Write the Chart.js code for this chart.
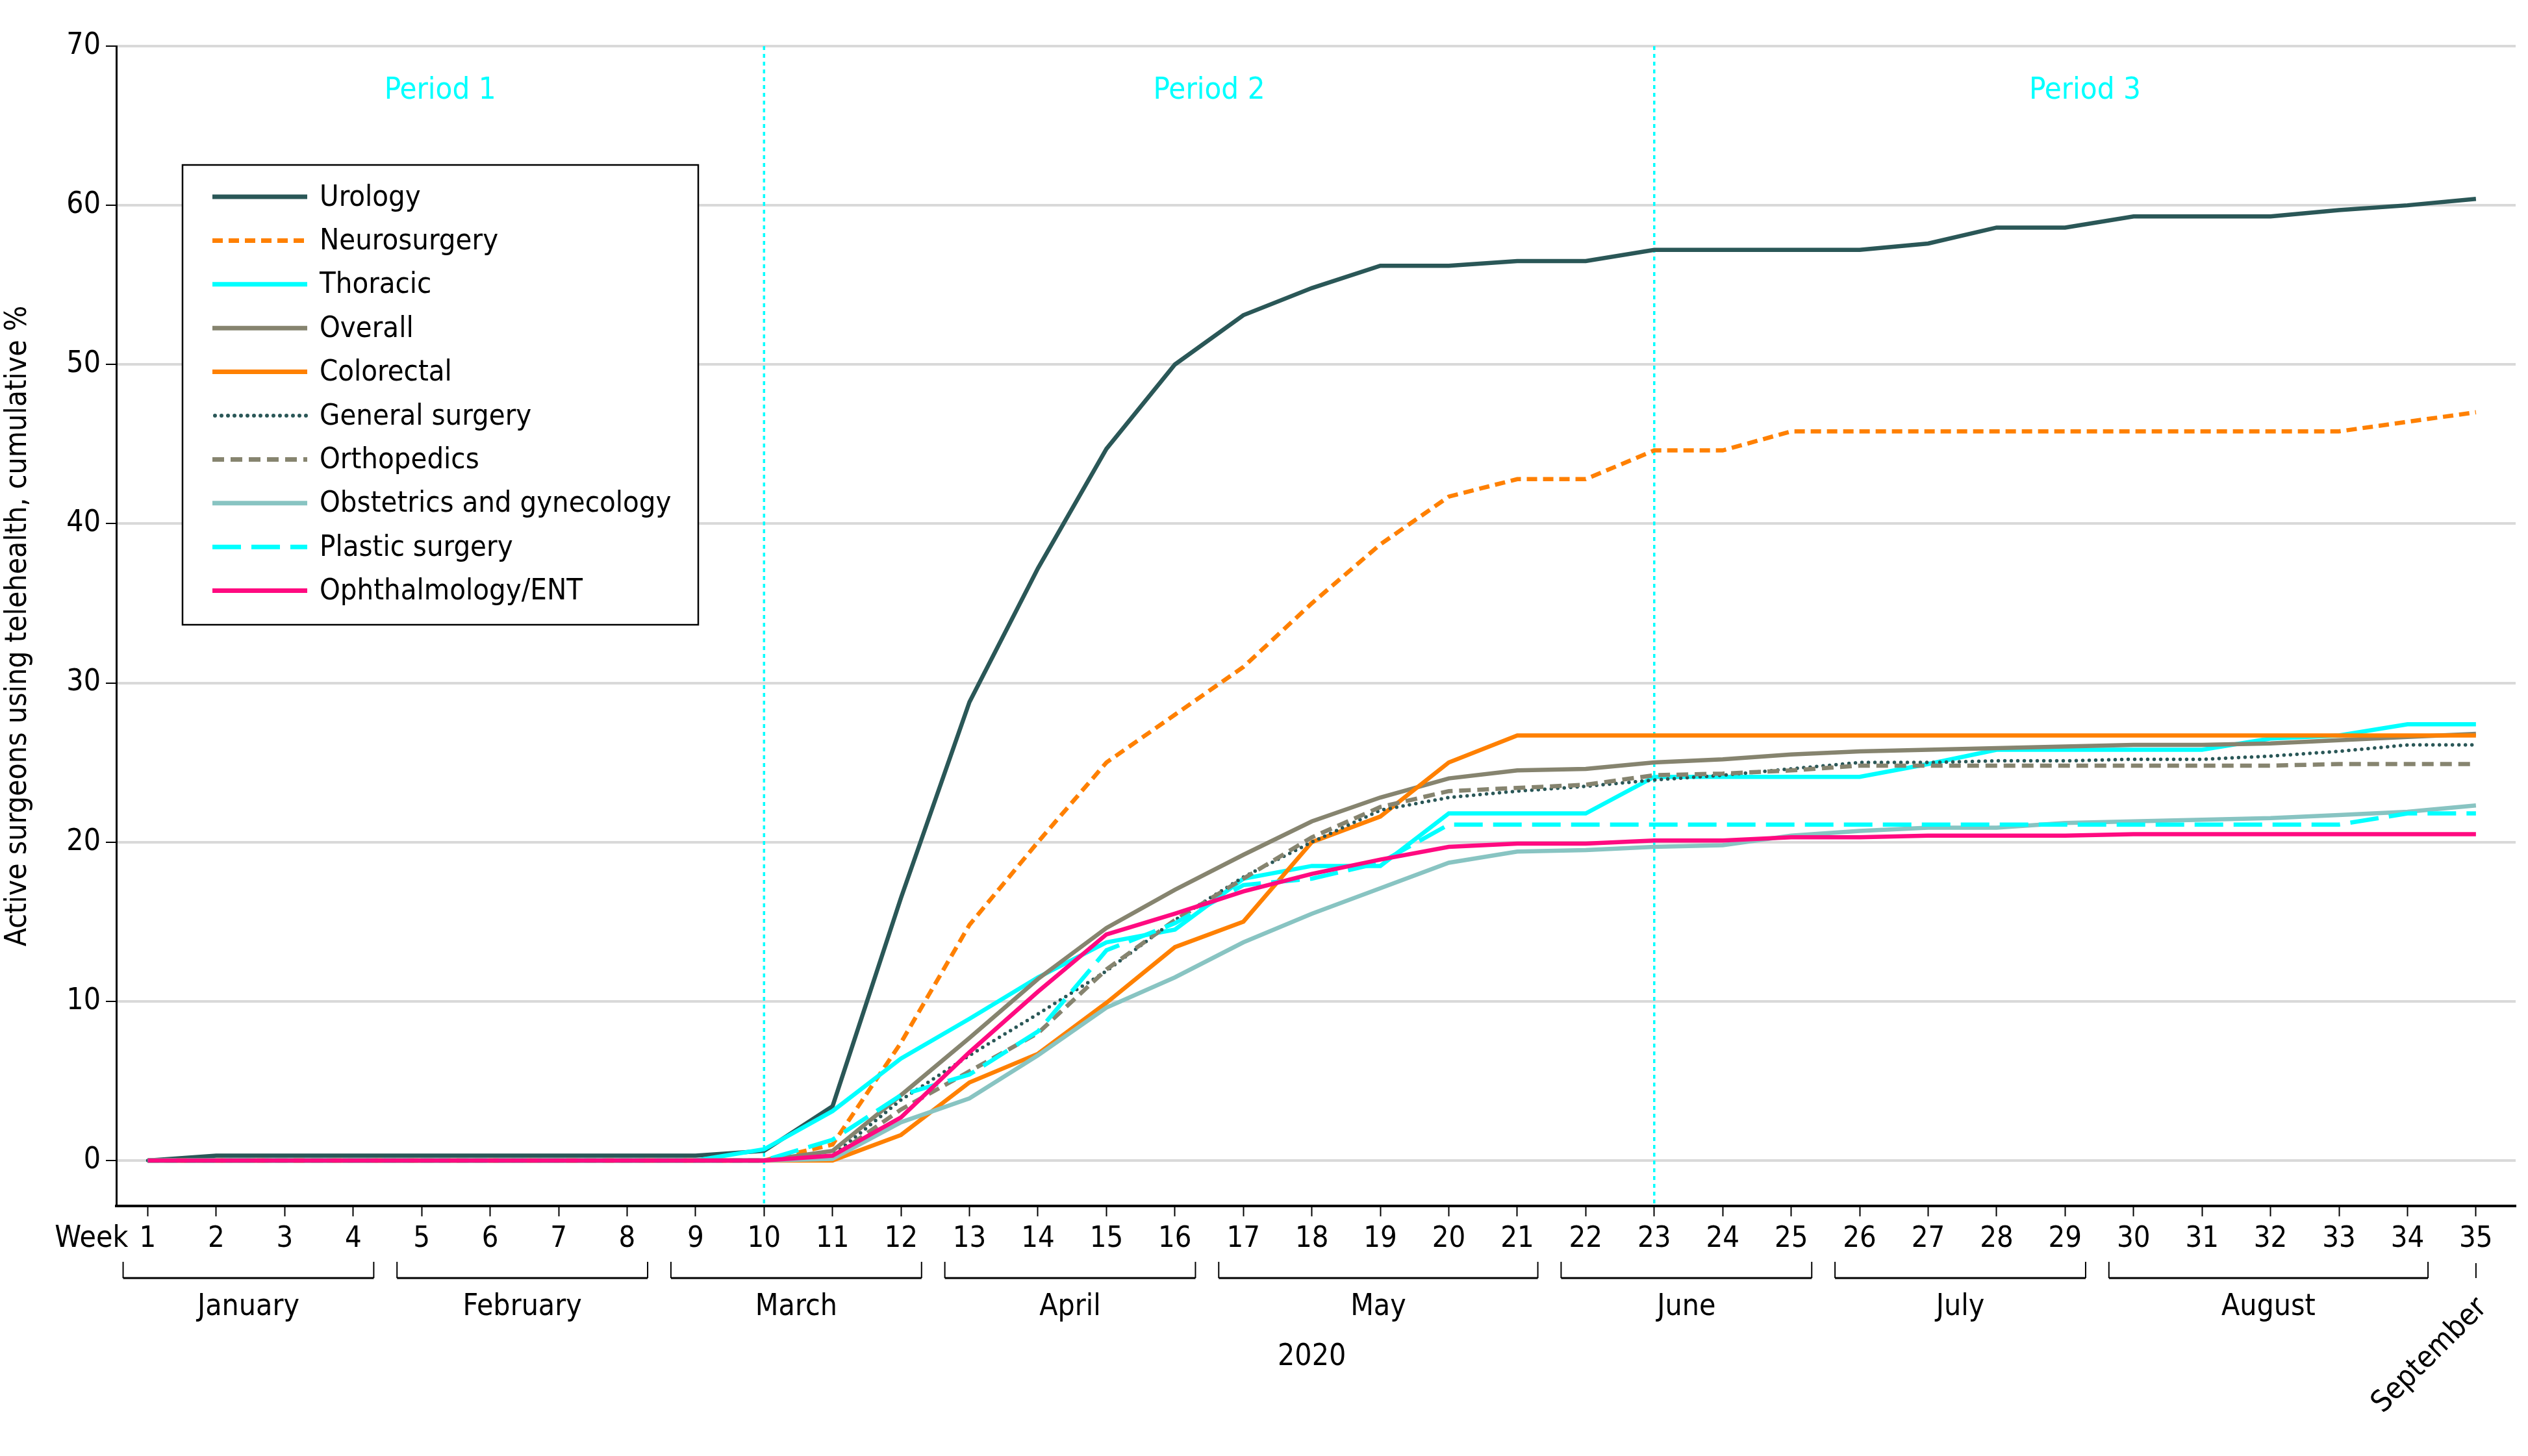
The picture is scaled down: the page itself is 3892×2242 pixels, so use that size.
<!DOCTYPE html>
<html>
<head>
<meta charset="utf-8">
<script src="https://cdn.jsdelivr.net/npm/chart.js@4.4.0/dist/chart.umd.min.js"></script>
<style>
  html, body { margin: 0; padding: 0; background: #fff; }
  #wrap { width: 3892px; height: 2242px; position: relative; }
</style>
</head>
<body>
<div id="wrap"><canvas id="chart"></canvas></div>
<script>
const weeks = [1, 2, 3, 4, 5, 6, 7, 8, 9, 10, 11, 12, 13, 14, 15, 16, 17, 18, 19, 20, 21, 22, 23, 24, 25, 26, 27, 28, 29, 30, 31, 32, 33, 34, 35];

const urology = [0, 0.3, 0.3, 0.3, 0.3, 0.3, 0.3, 0.3, 0.3, 0.6, 3.4, 16.5, 28.8, 37.2, 44.7, 50.0, 53.1, 54.8, 56.2, 56.2, 56.5, 56.5, 57.2, 57.2, 57.2, 57.2, 57.6, 58.6, 58.6, 59.3, 59.3, 59.3, 59.7, 60.0, 60.4];
const neurosurgery = [0, 0, 0, 0, 0, 0, 0, 0, 0, 0, 1.0, 7.4, 14.8, 20.0, 25.0, 28.0, 31.0, 35.0, 38.7, 41.7, 42.8, 42.8, 44.6, 44.6, 45.8, 45.8, 45.8, 45.8, 45.8, 45.8, 45.8, 45.8, 45.8, 46.4, 47.0];
const thoracic = [0, 0, 0, 0, 0, 0, 0, 0, 0, 0.7, 3.1, 6.4, 8.9, 11.5, 13.7, 14.5, 17.7, 18.5, 18.5, 21.8, 21.8, 21.8, 24.1, 24.1, 24.1, 24.1, 24.9, 25.8, 25.8, 25.8, 25.8, 26.5, 26.7, 27.4, 27.4];
const overall = [0, 0, 0, 0, 0, 0, 0, 0, 0, 0, 0.6, 4.1, 7.7, 11.4, 14.6, 17.0, 19.2, 21.3, 22.8, 24.0, 24.5, 24.6, 25.0, 25.2, 25.5, 25.7, 25.8, 25.9, 26.0, 26.1, 26.1, 26.2, 26.4, 26.6, 26.8];
const colorectal = [0, 0, 0, 0, 0, 0, 0, 0, 0, 0, 0, 1.6, 4.9, 6.7, 9.9, 13.4, 15.0, 20.0, 21.6, 25.0, 26.7, 26.7, 26.7, 26.7, 26.7, 26.7, 26.7, 26.7, 26.7, 26.7, 26.7, 26.7, 26.7, 26.7, 26.7];
const generalSurgery = [0, 0, 0, 0, 0, 0, 0, 0, 0, 0, 0.3, 3.8, 6.6, 9.2, 11.9, 15.1, 17.8, 20.0, 22.0, 22.8, 23.2, 23.5, 23.9, 24.2, 24.6, 25.0, 25.0, 25.1, 25.1, 25.2, 25.2, 25.4, 25.7, 26.1, 26.1];
const orthopedics = [0, 0, 0, 0, 0, 0, 0, 0, 0, 0, 0.2, 3.2, 5.6, 8.0, 12.0, 15.1, 17.7, 20.3, 22.2, 23.2, 23.4, 23.6, 24.2, 24.3, 24.5, 24.8, 24.8, 24.8, 24.8, 24.8, 24.8, 24.8, 24.9, 24.9, 24.9];
const obgyn = [0, 0, 0, 0, 0, 0, 0, 0, 0, 0, 0.1, 2.4, 3.9, 6.6, 9.6, 11.5, 13.7, 15.5, 17.1, 18.7, 19.4, 19.5, 19.7, 19.8, 20.4, 20.7, 20.9, 20.9, 21.2, 21.3, 21.4, 21.5, 21.7, 21.9, 22.3];
const plastic = [0, 0, 0, 0, 0, 0, 0, 0, 0, 0, 1.3, 4.1, 5.4, 8.1, 13.2, 14.9, 17.3, 17.7, 18.7, 21.1, 21.1, 21.1, 21.1, 21.1, 21.1, 21.1, 21.1, 21.1, 21.1, 21.1, 21.1, 21.1, 21.1, 21.8, 21.8];
const ophthalmology = [0, 0, 0, 0, 0, 0, 0, 0, 0, 0, 0.3, 2.7, 6.8, 10.6, 14.2, 15.5, 16.9, 18.0, 18.9, 19.7, 19.9, 19.9, 20.1, 20.1, 20.3, 20.3, 20.4, 20.4, 20.4, 20.5, 20.5, 20.5, 20.5, 20.5, 20.5];

const yTicks = [0, 10, 20, 30, 40, 50, 60, 70];
const monthNames = ['January', 'February', 'March', 'April', 'May', 'June', 'July', 'August', 'September'];
const monthFirstWeek = [1, 5, 9, 13, 17, 22, 26, 30, 35];
const monthLastWeek = [4, 8, 12, 16, 21, 25, 29, 34, 35];
const periodLabels = ['Period 1', 'Period 2', 'Period 3'];
const periodBreaks = [10, 23];

const FONT = '"Liberation Sans Narrow", "DejaVu Sans Condensed", "Roboto Condensed", "Liberation Sans", sans-serif';
const CYAN = '#00ffff';
const TEAL = '#2a5757';
const OLIVE = '#86846f';
const ORANGE = '#ff8000';

const toPoints = vals => weeks.map((w, i) => ({ x: w, y: vals[i] }));

// series, in legend order
const datasets = [
  { label: 'Urology', data: toPoints(urology), borderColor: TEAL },
  { label: 'Neurosurgery', data: toPoints(neurosurgery), borderColor: ORANGE, borderDash: [16, 9], borderCapStyle: 'butt' },
  { label: 'Thoracic', data: toPoints(thoracic), borderColor: CYAN },
  { label: 'Overall', data: toPoints(overall), borderColor: OLIVE },
  { label: 'Colorectal', data: toPoints(colorectal), borderColor: ORANGE },
  { label: 'General surgery', data: toPoints(generalSurgery), borderColor: TEAL, borderDash: [0, 10], borderCapStyle: 'round', borderWidth: 5.5 },
  { label: 'Orthopedics', data: toPoints(orthopedics), borderColor: OLIVE, borderDash: [18, 10], borderCapStyle: 'butt' },
  { label: 'Obstetrics and gynecology', data: toPoints(obgyn), borderColor: '#88c4c2' },
  { label: 'Plastic surgery', data: toPoints(plastic), borderColor: CYAN, borderDash: [44, 16], borderCapStyle: 'butt' },
  { label: 'Ophthalmology/ENT', data: toPoints(ophthalmology), borderColor: '#ff0a80' }
].map((d, i, all) => Object.assign({ borderWidth: 6.5, fill: false, order: all.length - i }, d));

const annotations = {
  id: 'annotations',
  beforeDatasetsDraw(chart) {
    const { ctx, chartArea: a, scales: { x, y } } = chart;
    ctx.save();
    // period boundaries
    ctx.strokeStyle = CYAN;
    ctx.lineWidth = 3.5;
    ctx.setLineDash([6, 6]);
    periodBreaks.forEach(w => {
      const px = x.getPixelForValue(w);
      ctx.beginPath();
      ctx.moveTo(px, a.top);
      ctx.lineTo(px, a.bottom);
      ctx.stroke();
    });
    ctx.setLineDash([]);
    const bounds = [x.min, ...periodBreaks, x.max];
    ctx.fillStyle = CYAN;
    ctx.font = `47px ${FONT}`;
    ctx.textAlign = 'center';
    ctx.textBaseline = 'middle';
    periodLabels.forEach((t, i) => {
      ctx.fillText(t, x.getPixelForValue((bounds[i] + bounds[i + 1]) / 2), y.getPixelForValue(67.2));
    });
    ctx.restore();
  },
  afterDatasetsDraw(chart) {
    const { ctx, chartArea: a } = chart;
    // legend box
    const bx = a.left + 102, by = a.top + 183, bw = 794, bh = 708;
    ctx.save();
    ctx.fillStyle = '#fff';
    ctx.fillRect(bx, by, bw, bh);
    ctx.strokeStyle = '#000';
    ctx.lineWidth = 2.5;
    ctx.strokeRect(bx, by, bw, bh);
    ctx.font = `45px ${FONT}`;
    ctx.textAlign = 'left';
    ctx.textBaseline = 'middle';
    chart.data.datasets.forEach((d, i) => {
      const ry = by + 49 + i * 67.4;
      ctx.strokeStyle = d.borderColor;
      ctx.lineWidth = d.borderWidth + 0.5;
      ctx.lineCap = d.borderCapStyle || 'butt';
      ctx.setLineDash(d.borderDash || []);
      ctx.beginPath();
      ctx.moveTo(bx + 46 + (d.borderCapStyle === 'round' ? 4 : 0), ry);
      ctx.lineTo(bx + 192, ry);
      ctx.stroke();
      ctx.setLineDash([]);
      ctx.fillStyle = '#000';
      ctx.fillText(d.label, bx + 211, ry + 2);
    });
    ctx.restore();
  },
  afterDraw(chart) {
    const { ctx, chartArea: a, scales: { x } } = chart;
    const b = a.bottom;
    ctx.save();
    ctx.strokeStyle = '#000';
    ctx.fillStyle = '#000';
    ctx.font = `46px ${FONT}`;
    ctx.textBaseline = 'middle';
    // "Week" caption before tick labels
    ctx.textAlign = 'right';
    ctx.fillText('Week', x.getPixelForValue(weeks[0]) - 30, b + 51);
    // month brackets
    ctx.textAlign = 'center';
    monthNames.forEach((m, i) => {
      const f = monthFirstWeek[i], l = monthLastWeek[i];
      if (f === l) {
        const px = x.getPixelForValue(f);
        ctx.lineWidth = 2;
        ctx.beginPath();
        ctx.moveTo(px, b + 88);
        ctx.lineTo(px, b + 111);
        ctx.stroke();
        ctx.save();
        ctx.translate(px + 10, b + 150);
        ctx.rotate(-Math.PI / 4);
        ctx.textAlign = 'right';
        ctx.fillText(m, 0, 0);
        ctx.restore();
        return;
      }
      const x0 = x.getPixelForValue(f - 0.36), x1 = x.getPixelForValue(l + 0.3);
      ctx.lineWidth = 2;
      ctx.beginPath();
      ctx.moveTo(x0, b + 86);
      ctx.lineTo(x0, b + 111);
      ctx.moveTo(x1, b + 86);
      ctx.lineTo(x1, b + 111);
      ctx.stroke();
      ctx.lineWidth = 3;
      ctx.beginPath();
      ctx.moveTo(x0, b + 111);
      ctx.lineTo(x1, b + 111);
      ctx.stroke();
      ctx.fillText(m, (x0 + x1) / 2, b + 156);
    });
    ctx.fillText('2020', x.getPixelForValue(18), b + 233);
    ctx.restore();
  }
};

new Chart(document.getElementById('chart'), {
  type: 'line',
  data: { datasets },
  options: {
    responsive: true,
    maintainAspectRatio: false,
    devicePixelRatio: 1,
    animation: false,
    layout: { padding: { top: 71, right: 19, left: 0, bottom: 0 } },
    elements: { point: { radius: 0 }, line: { tension: 0 } },
    plugins: { legend: { display: false }, tooltip: { enabled: false } },
    scales: {
      x: {
        type: 'linear',
        min: 0.54,
        max: 35.58,
        afterBuildTicks: s => { s.ticks = weeks.map(v => ({ value: v })); },
        afterFit: s => { s.height = 385; },
        grid: { drawOnChartArea: false, drawTicks: true, tickLength: 16, tickColor: '#000', tickWidth: 2 },
        border: { color: '#000', width: 4 },
        ticks: { font: { family: FONT, size: 45 }, color: '#000', padding: 8, maxRotation: 0, autoSkip: false }
      },
      y: {
        min: -2.86,
        max: 70,
        afterBuildTicks: s => { s.ticks = yTicks.map(v => ({ value: v })); },
        afterFit: s => { s.width = 179; },
        grid: { color: '#d9d9d9', lineWidth: 4, drawTicks: true, tickLength: 16, tickColor: '#000', tickWidth: 2 },
        border: { color: '#000', width: 3 },
        ticks: { font: { family: FONT, size: 46 }, color: '#000', padding: 8, autoSkip: false },
        title: { display: true, text: 'Active surgeons using telehealth, cumulative %', font: { family: FONT, size: 46 }, color: '#000', padding: 0 }
      }
    }
  },
  plugins: [annotations]
});
</script>
</body>
</html>
